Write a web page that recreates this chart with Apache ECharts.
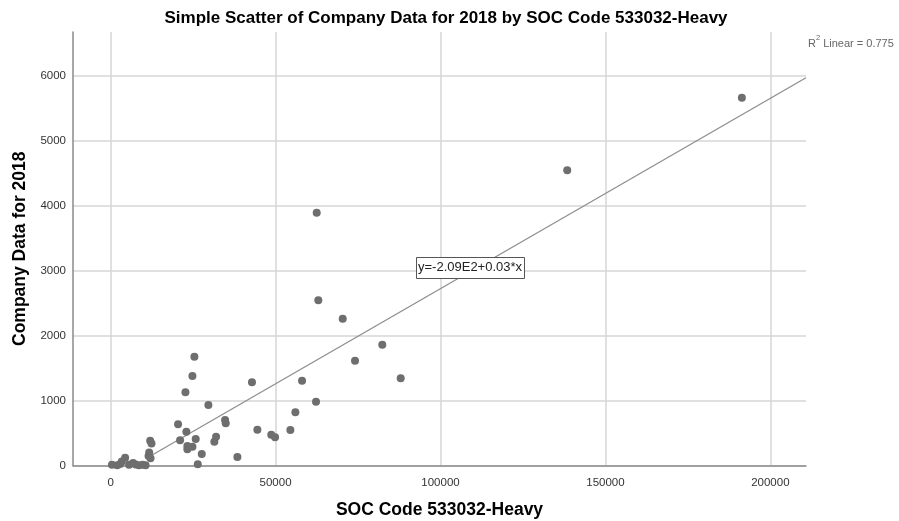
<!DOCTYPE html>
<html>
<head>
<meta charset="utf-8">
<script src="https://cdn.jsdelivr.net/npm/echarts@6/dist/echarts.min.js"></script>
<style>html,body{margin:0;padding:0;background:#fff}#c{width:899px;height:521px}</style>
</head>
<body>
<div id="c"></div>
<script>
// SOC Code 533032-Heavy values
const socX = [400, 2000, 2900, 3400, 4400, 5600, 6800, 7600, 8600, 9700, 10600, 11500, 11700, 12100, 12000, 12400,
  20450, 21060, 22680, 22970, 23270, 23270, 24800, 24800, 25400, 25800, 26420, 27630, 29640, 31450, 31970,
  34700, 34900, 38430, 42850, 44490, 48700, 49850, 54490, 56010, 58030, 62270, 62480, 62970, 70360, 74090,
  82360, 87940, 138420, 191360];
// Company Data for 2018 values
const company2018 = [10, 5, 25, 60, 120, 10, 40, 15, 5, 10, 5, 145, 200, 110, 380, 340,
  633, 387, 1126, 520, 300, 250, 290, 1377, 1674, 408, 18, 177, 931, 367, 443,
  700, 650, 130, 1280, 550, 475, 433, 546, 818, 1305, 982, 3889, 2541, 2259, 1613,
  1859, 1341, 4541, 5658];
const xTicks = [0, 50000, 100000, 150000, 200000];
const yTicks = [0, 1000, 2000, 3000, 4000, 5000, 6000];
const fitIntercept = -209;
const fitSlope = 0.0293;
const fitRange = [12600, 210800];
const rSquared = 0.775;
const equationText = 'y=-2.09E2+0.03*x';

const points = socX.map((x, i) => [x, company2018[i]]);
const fitLine = fitRange.map(x => [x, fitIntercept + fitSlope * x]);
const FONT = '"Liberation Sans", Arial, sans-serif';

const chart = echarts.init(document.getElementById('c'), null, {renderer: 'canvas'});
chart.setOption({
  animation: false,
  backgroundColor: '#ffffff',
  title: {
    text: 'Simple Scatter of Company Data for 2018 by SOC Code 533032-Heavy',
    left: 441, top: 5, textAlign: 'center',
    textStyle: {fontFamily: FONT, fontSize: 17, fontWeight: 'bold', color: '#000'}
  },
  grid: {left: 73, right: 93, top: 32, bottom: 55.5, containLabel: false, outerBoundsMode: 'none'},
  xAxis: {
    type: 'value', min: -11400, max: 210800,
    name: 'SOC Code 533032-Heavy', nameLocation: 'middle', nameGap: 36,
    nameTextStyle: {fontFamily: FONT, fontSize: 17.5, fontWeight: 'bold', color: '#000'},
    axisLine: {show: true, onZero: false, lineStyle: {color: '#8a8a8a', width: 1.5}},
    axisTick: {show: false, customValues: xTicks},
    axisLabel: {customValues: xTicks, formatter: v => String(v), fontFamily: FONT, fontSize: 11.5, color: '#333', margin: 11},
    splitLine: {show: true, lineStyle: {color: '#d6d6d6', width: 1.5}}
  },
  yAxis: {
    type: 'value', min: 0, max: 6670,
    name: 'Company Data for 2018', nameLocation: 'middle', nameGap: 44, nameRotate: 90,
    nameTextStyle: {fontFamily: FONT, fontSize: 17.5, fontWeight: 'bold', color: '#000'},
    axisLine: {show: true, onZero: false, lineStyle: {color: '#8a8a8a', width: 1.5}},
    axisTick: {show: false, customValues: yTicks},
    axisLabel: {customValues: yTicks, formatter: v => String(v), fontFamily: FONT, fontSize: 11.5, color: '#333', margin: 7},
    splitLine: {show: true, lineStyle: {color: '#d6d6d6', width: 1.5}}
  },
  series: [
    {
      type: 'line', data: fitLine, symbol: 'none', silent: true, z: 3,
      lineStyle: {color: '#8c8c8c', width: 1.2}
    },
    {
      type: 'scatter', data: points, symbol: 'circle', symbolSize: 8, z: 4,
      itemStyle: {color: '#6e6e6e', opacity: 1}
    }
  ],
  graphic: [
    {type: 'rect', left: 416, top: 257, z: 100, zlevel: 1,
     shape: {width: 108, height: 21},
     style: {fill: '#fff', stroke: '#555', lineWidth: 1}},
    {type: 'text', left: 418, top: 261, z: 101, zlevel: 1,
     style: {text: equationText, font: '13px ' + FONT, fill: '#222'}},
    {
      type: 'text', left: 808, top: 34, z: 100, zlevel: 1,
      style: {
        text: '{r|R}{s|2}{r| Linear = ' + rSquared + '}',
        rich: {
          r: {fontFamily: FONT, fontSize: 11, fill: '#666', verticalAlign: 'bottom', lineHeight: 15},
          s: {fontFamily: FONT, fontSize: 7.5, fill: '#666', verticalAlign: 'top', lineHeight: 15}
        }
      }
    }
  ]
});
</script>
</body>
</html>
